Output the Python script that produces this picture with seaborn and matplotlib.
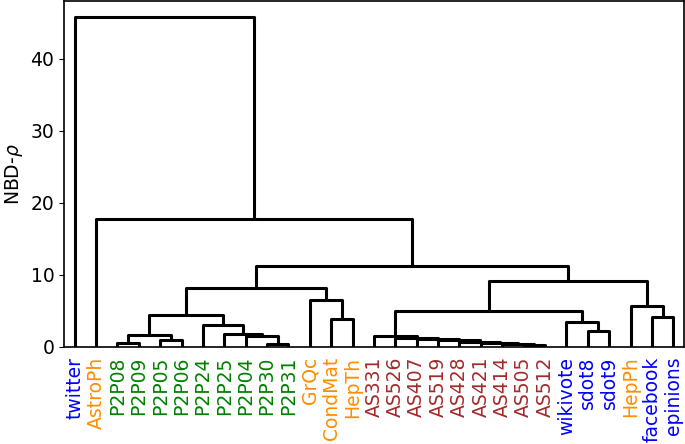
import pandas as pd
import matplotlib
matplotlib.use("Agg")
import matplotlib.pyplot as plt
import seaborn as sns

# leaf order and label colour group
leaves = ["twitter", "AstroPh", "P2P08", "P2P09", "P2P05", "P2P06", "P2P24", "P2P25",
          "P2P04", "P2P30", "P2P31", "GrQc", "CondMat", "HepTh", "AS331", "AS526",
          "AS407", "AS519", "AS428", "AS421", "AS414", "AS505", "AS512", "wikivote",
          "sdot8", "sdot9", "HepPh", "facebook", "epinions"]
leaf_group = ["social", "collab", "p2p", "p2p", "p2p", "p2p", "p2p", "p2p",
              "p2p", "p2p", "p2p", "collab", "collab", "collab", "as", "as",
              "as", "as", "as", "as", "as", "as", "as", "social",
              "social", "social", "collab", "social", "social"]
group_colors = {"social": "blue", "collab": "darkorange", "p2p": "green", "as": "brown"}

# merges, each one makes cluster c1, c2, ...
merge_left = ["P2P08", "P2P05", "c1", "P2P30", "P2P04", "P2P25", "P2P24", "c3",
              "CondMat", "GrQc", "c8", "AS505", "AS414", "AS421", "AS428", "AS519",
              "AS407", "AS526", "AS331", "sdot8", "wikivote", "c19", "facebook", "HepPh",
              "c22", "c11", "AstroPh", "twitter"]
merge_right = ["P2P09", "P2P06", "c2", "P2P31", "c4", "c5", "c6", "c7",
               "HepTh", "c9", "c10", "AS512", "c12", "c13", "c14", "c15",
               "c16", "c17", "c18", "sdot9", "c20", "c21", "epinions", "c23",
               "c24", "c25", "c26", "c27"]
merge_height = [0.5, 1.0, 1.7, 0.45, 1.5, 1.8, 3.0, 4.5,
                3.85, 6.55, 8.2, 0.25, 0.45, 0.6, 0.75, 0.9,
                1.1, 1.3, 1.5, 2.2, 3.4, 5.0, 4.1, 5.75,
                9.1, 11.2, 17.7, 45.7]

# positions like scipy's dendrogram: leaf i at 10*i + 5
pos = {name: 10 * i + 5 for i, name in enumerate(leaves)}
hgt = {name: 0.0 for name in leaves}
rows = []
for k, (a, b, h) in enumerate(zip(merge_left, merge_right, merge_height), start=1):
    xs = [pos[a], pos[a], pos[b], pos[b]]
    ys = [hgt[a], h, h, hgt[b]]
    for x, y in zip(xs, ys):
        rows.append({"link": k, "x": x, "y": y})
    pos[f"c{k}"] = (pos[a] + pos[b]) / 2
    hgt[f"c{k}"] = h
links = pd.DataFrame(rows)

sns.set_style("ticks", {"axes.edgecolor": "black", "text.color": "black",
                        "axes.labelcolor": "black", "xtick.color": "black",
                        "ytick.color": "black"})
plt.rcParams["font.family"] = ["DejaVu Sans"]

fig, ax = plt.subplots(figsize=(6.85, 4.44), dpi=100)
sns.lineplot(data=links, x="x", y="y", units="link", estimator=None, sort=False,
             color="black", linewidth=2.2, ax=ax)

ax.set_xlim(0, 10 * len(leaves))
ax.set_ylim(0, max(merge_height) * 1.05)
ax.set_xticks([pos[n] for n in leaves])
ax.set_xticklabels(leaves, rotation=90, fontsize=13.5)
for lbl, g in zip(ax.get_xticklabels(), leaf_group):
    lbl.set_color(group_colors[g])
ax.tick_params(axis="x", length=0, pad=7)
ax.set_yticks([0, 10, 20, 30, 40])
ax.tick_params(axis="y", labelsize=13.5)
ax.set_xlabel("")
ax.set_ylabel(r"NBD-$\rho$", fontsize=13.5)
for s in ax.spines.values():
    s.set_linewidth(1.2)

plt.subplots_adjust(left=0.0934, right=0.9985, top=0.9977, bottom=0.2185)
plt.savefig("out.png", dpi=100)
